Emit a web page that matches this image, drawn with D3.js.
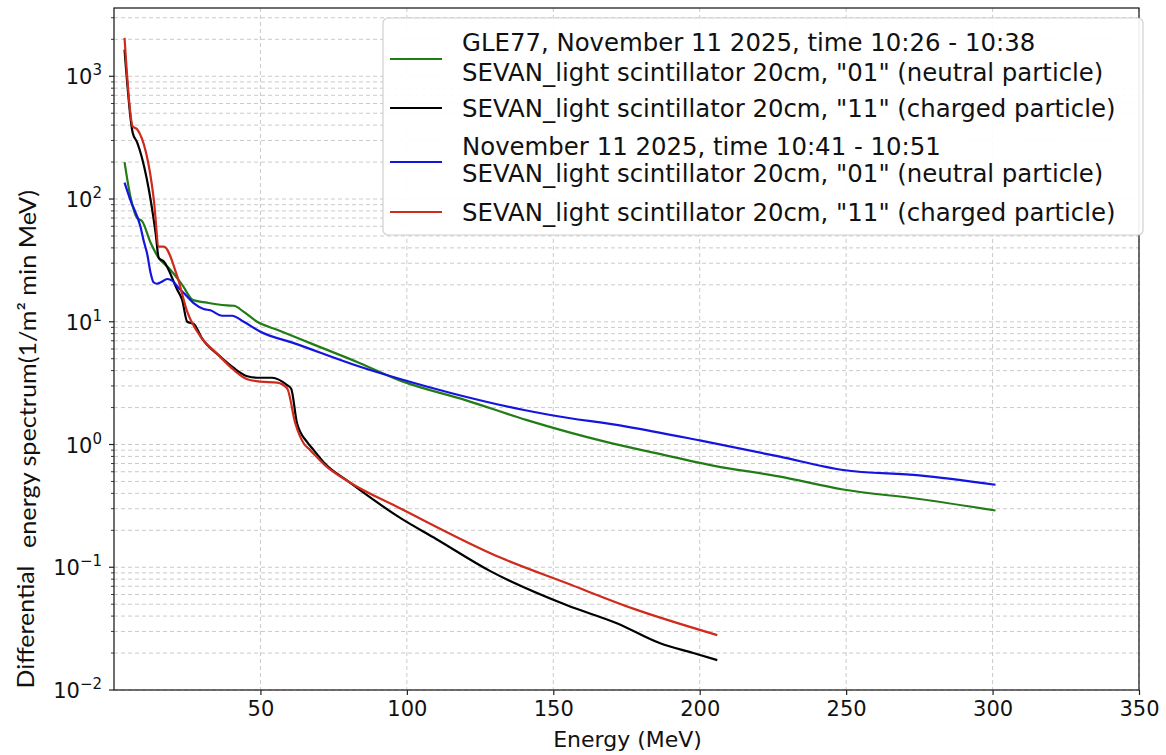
<!DOCTYPE html>
<html>
<head>
<meta charset="utf-8">
<script src="https://cdn.jsdelivr.net/npm/d3@7"></script>
<style>
  body { margin: 0; background: #fff; }
  svg { display: block; }
</style>
</head>
<body>
<script>
// GLE77, 10:26 - 10:38, "01" neutral
var gle77NeutralE = [3.6, 5.6, 7.9, 9.6, 12.5, 15.3, 18.7, 23.3, 27, 31.8, 35, 38.6, 41, 44.2, 48.9, 55.7, 67, 84, 98, 120, 141, 168, 185, 205, 227, 249, 275, 301];
var gle77NeutralV = [200, 105, 70, 66, 44, 33, 27.4, 20, 15, 14.3, 13.9, 13.6, 13.5, 12.1, 10, 8.6, 6.7, 4.6, 3.3, 2.3, 1.58, 1.05, 0.85, 0.67, 0.55, 0.43, 0.36, 0.29];
// GLE77, "11" charged
var gle77ChargedE = [3.6, 6.4, 7.9, 14.2, 15.3, 17, 21.6, 23.3, 25, 27.2, 30.1, 36.3, 40.9, 45.5, 48.9, 54, 59.1, 60.5, 62.5, 65.9, 68.2, 72, 80, 98, 110, 128.5, 154.7, 171.7, 186.5, 197.8, 206];
var gle77ChargedV = [1650, 345, 290, 53, 33, 31, 18.2, 15, 10, 9.6, 7.3, 5.2, 4.2, 3.6, 3.5, 3.5, 3.05, 2.85, 1.49, 1.05, 0.9, 0.7, 0.5, 0.25, 0.17, 0.093, 0.049, 0.035, 0.024, 0.02, 0.0175];
// 10:41 - 10:51, "01" neutral
var laterNeutralE = [3.6, 5.6, 9, 10.2, 11.3, 12.5, 13.5, 14.7, 16, 18.2, 20, 21.6, 24, 27.2, 30.6, 32.9, 36.9, 40.3, 44.3, 50, 61.4, 84, 98, 115, 140, 149, 175, 200, 227, 249, 275, 301];
var laterNeutralV = [136, 98, 60, 45, 36, 25, 21, 20.4, 21, 22.3, 21.5, 19.4, 17, 14.2, 12.7, 12.4, 11.2, 11.2, 10, 8.3, 6.7, 4.3, 3.4, 2.63, 1.91, 1.74, 1.4, 1.08, 0.8, 0.62, 0.56, 0.47];
// 10:41 - 10:51, "11" charged
var laterChargedE = [3.6, 6.4, 7.9, 13.6, 15.3, 17, 21.6, 25, 29.5, 35.2, 40.9, 45.5, 50, 55.7, 59.1, 61.9, 64.8, 67, 72, 80, 98, 131.9, 154.7, 177.3, 206];
var laterChargedV = [2055, 390, 370, 99, 41, 41, 23.4, 12.1, 7.6, 5.5, 4.05, 3.4, 3.25, 3.19, 2.87, 1.49, 1.02, 0.9, 0.68, 0.5, 0.3, 0.12, 0.074, 0.046, 0.028];

var xTicks = [50, 100, 150, 200, 250, 300, 350];
var yTicks = [1e-2, 1e-1, 1e0, 1e1, 1e2, 1e3];
var yTickExp = ['\u22122', '\u22121', '0', '1', '2', '3'];

var legendLabels = [
  ['GLE77, November 11 2025, time 10:26 - 10:38', 'SEVAN_light scintillator 20cm, "01" (neutral particle)'],
  ['SEVAN_light scintillator 20cm, "11" (charged particle)'],
  ['November 11 2025, time 10:41 - 10:51', 'SEVAN_light scintillator 20cm, "01" (neutral particle)'],
  ['SEVAN_light scintillator 20cm, "11" (charged particle)']
];

var series = [
  { e: gle77NeutralE, v: gle77NeutralV, color: '#217c16' },
  { e: gle77ChargedE, v: gle77ChargedV, color: '#000000' },
  { e: laterNeutralE, v: laterNeutralV, color: '#1414e0' },
  { e: laterChargedE, v: laterChargedV, color: '#cf2a1c' }
];

var W = 1166, H = 755;
var margin = { top: 8, right: 27, bottom: 65, left: 114 },
  width = W - margin.left - margin.right,
  height = H - margin.top - margin.bottom;

var svg = d3.select('body').append('svg').attr('width', W).attr('height', H);
var g = svg.append('g').attr('transform', 'translate(' + margin.left + ',' + margin.top + ')');

var x = d3.scaleLinear().domain([0, 350]).range([0, width]);
var y = d3.scaleLog().domain([0.01, 3600]).range([height, 0]);

// minor log ticks
var minor = [];
for (var p = -2; p <= 3; p++) {
  for (var k = 2; k <= 9; k++) {
    var val = k * Math.pow(10, p);
    if (val <= 3600) minor.push(val);
  }
}

// grid
var grid = g.append('g').attr('stroke', '#c4c4c4').attr('stroke-width', 0.9).attr('stroke-dasharray', '4,3');
grid.selectAll('.gy').data(yTicks.concat(minor)).enter().append('line')
  .attr('x1', 0).attr('x2', width)
  .attr('y1', function(d) { return y(d); }).attr('y2', function(d) { return y(d); });
grid.selectAll('.gx').data(xTicks).enter().append('line')
  .attr('y1', 0).attr('y2', height)
  .attr('x1', function(d) { return x(d); }).attr('x2', function(d) { return x(d); });

// lines
var line = d3.line()
  .curve(d3.curveMonotoneX)
  .x(function(d) { return x(d[0]); })
  .y(function(d) { return y(d[1]); });

series.forEach(function(s) {
  g.append('path')
    .datum(d3.zip(s.e, s.v))
    .attr('fill', 'none')
    .attr('stroke', s.color)
    .attr('stroke-width', 2.2)
    .attr('stroke-linejoin', 'round')
    .attr('d', line);
});

// X axis
var xAxis = g.append('g')
  .attr('transform', 'translate(0,' + height + ')')
  .call(d3.axisBottom(x).tickValues(xTicks).tickSize(5).tickPadding(6).tickFormat(d3.format('d')));
xAxis.select('.domain').remove();
xAxis.selectAll('text').attr('font-family', 'DejaVu Sans').attr('font-size', 21).attr('fill', '#111');
xAxis.selectAll('line').attr('stroke', '#222').attr('stroke-width', 1.2);

// Y axis ticks
var yAxis = g.append('g');
yAxis.selectAll('.ymaj').data(yTicks).enter().append('line')
  .attr('x1', -5).attr('x2', 0)
  .attr('y1', function(d) { return y(d); }).attr('y2', function(d) { return y(d); })
  .attr('stroke', '#222').attr('stroke-width', 1.2);
yAxis.selectAll('.ymin').data(minor).enter().append('line')
  .attr('x1', -3).attr('x2', 0)
  .attr('y1', function(d) { return y(d); }).attr('y2', function(d) { return y(d); })
  .attr('stroke', '#222').attr('stroke-width', 0.9);
var yl = yAxis.selectAll('.ylab').data(yTicks).enter().append('text')
  .attr('x', -12)
  .attr('y', function(d) { return y(d) + 8; })
  .attr('text-anchor', 'end')
  .attr('font-family', 'DejaVu Sans')
  .attr('fill', '#111');
yl.append('tspan').attr('font-size', 21).text('10');
yl.append('tspan').attr('font-size', 15).attr('dy', -9).text(function(d, i) { return yTickExp[i]; });

// frame
g.append('rect')
  .attr('width', width).attr('height', height)
  .attr('fill', 'none').attr('stroke', '#222').attr('stroke-width', 1.3);

// axis labels
svg.append('text')
  .attr('x', margin.left + width / 2 + 1).attr('y', 747)
  .attr('text-anchor', 'middle')
  .attr('font-family', 'DejaVu Sans').attr('font-size', 22).attr('fill', '#111')
  .text('Energy (MeV)');

svg.append('text')
  .attr('transform', 'translate(34,627) rotate(-90)')
  .attr('text-anchor', 'middle')
  .attr('font-family', 'Lato').attr('font-size', 24).attr('fill', '#111')
  .attr('textLength', 123).attr('lengthAdjust', 'spacingAndGlyphs')
  .text('Differential');
svg.append('text')
  .attr('transform', 'translate(36,369) rotate(-90)')
  .attr('text-anchor', 'middle')
  .attr('font-family', 'Lato').attr('font-size', 24).attr('fill', '#111')
  .attr('textLength', 358).attr('lengthAdjust', 'spacingAndGlyphs')
  .text('energy spectrum(1/m\u00b2 min MeV)');

// legend
var leg = svg.append('g');
leg.append('rect')
  .attr('x', 383).attr('y', 18).attr('width', 760).attr('height', 217)
  .attr('rx', 5).attr('fill', '#fff').attr('fill-opacity', 0.92)
  .attr('stroke', '#d0d0d0').attr('stroke-width', 1.2);
var textRows = [[42, 72], [108], [146, 173], [212]];
var handleY = [59, 108, 162, 212];
legendLabels.forEach(function(lines, i) {
  leg.append('line')
    .attr('x1', 390).attr('x2', 442)
    .attr('y1', handleY[i]).attr('y2', handleY[i])
    .attr('stroke', series[i].color).attr('stroke-width', 2.2);
  lines.forEach(function(t, j) {
    leg.append('text')
      .attr('x', 462).attr('y', textRows[i][j] + 8.5)
      .attr('font-family', 'DejaVu Sans').attr('font-size', 24.4).attr('fill', '#111')
      .text(t);
  });
});
</script>
</body>
</html>
